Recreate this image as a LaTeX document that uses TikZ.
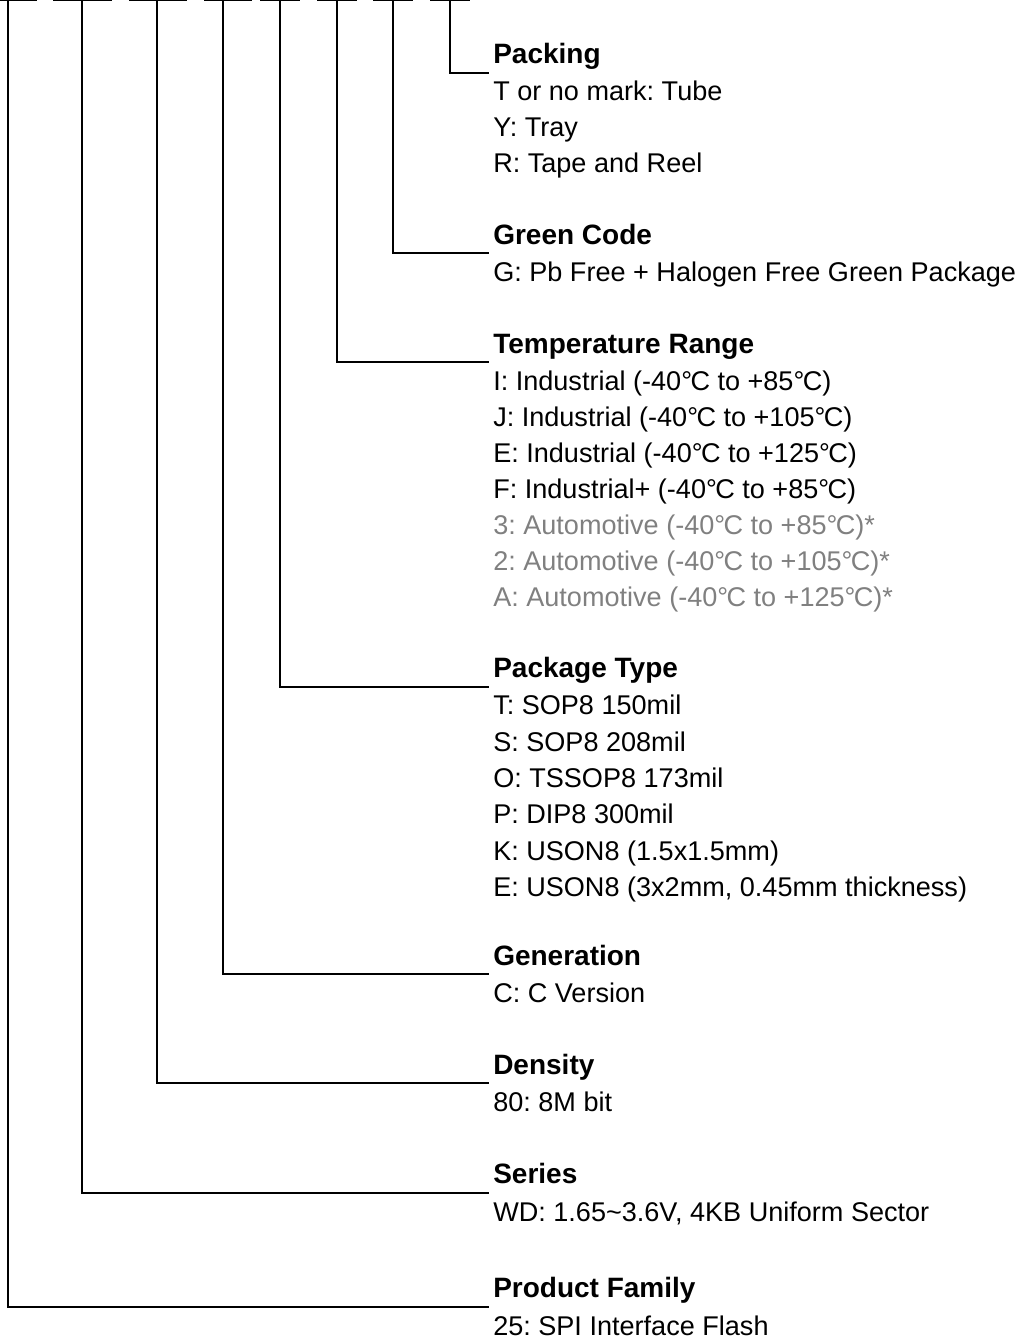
\documentclass[tikz,border=0pt]{standalone}
\usepackage{fontspec}
\setmainfont{Liberation Sans}
\definecolor{autogray}{RGB}{128,128,128}
\newcommand\DegC{°\kern-0.06em C}
\frenchspacing
\begin{document}
\begin{tikzpicture}[x=0.75pt,y=-0.75pt,
  conn/.style={line width=1.5pt,line join=miter},
  topdash/.style={line width=1.5pt},
  title/.style={anchor=base west,inner sep=0pt,font=\fontsize{21pt}{25pt}\bfseries\selectfont},
  entry/.style={anchor=base west,inner sep=0pt,font=\fontsize{20.3pt}{24pt}\selectfont},
  autoentry/.style={entry,text=autogray}]
\useasboundingbox (0,0) rectangle (1022,1340);
% top dashes
\foreach \a/\b in {0/37,53/112,129/187,204/252,260/300,317/357,373/413,430/470}
  \draw[topdash] (\a,0) -- (\b,0);
% top coordinates of the verticals and end column of the horizontals
\coordinate (v1) at (7.5,0);
\coordinate (v2) at (82.3,0);
\coordinate (v3) at (157.3,0);
\coordinate (v4) at (223.3,0);
\coordinate (v5) at (280,0);
\coordinate (v6) at (336.7,0);
\coordinate (v7) at (393.3,0);
\coordinate (v8) at (450,0);
\coordinate (hend) at (489,0);
% Packing
\node[title] (pk) at (493,63.2) {Packing};
\node[entry] (pk1) at (493,100.7) {T or no mark: Tube};
\node[entry] (pk2) at (493,136.7) {Y: Tray};
\node[entry] (pk3) at (493,172.7) {R: Tape and Reel};
% Green code
\node[title] (gc) at (493,244) {Green Code};
\node[entry] (gc1) at (493,281.5) {G: Pb Free + Halogen Free Green Package};
% Temperature
\node[title] (tr) at (493,353) {Temperature Range};
\node[entry] (tr1) at (493,390.5) {I: Industrial (-40\DegC{} to +85\DegC)};
\node[entry] (tr2) at (493,426.5) {J: Industrial (-40\DegC{} to +105\DegC)};
\node[entry] (tr3) at (493,462.5) {E: Industrial (-40\DegC{} to +125\DegC)};
\node[entry] (tr4) at (493,498.5) {F: Industrial+ (-40\DegC{} to +85\DegC)};
\node[autoentry] (tr5) at (493,534.5) {3: Automotive (-40\DegC{} to +85\DegC)*};
\node[autoentry] (tr6) at (493,570.5) {2: Automotive (-40\DegC{} to +105\DegC)*};
\node[autoentry] (tr7) at (493,606.5) {A: Automotive (-40\DegC{} to +125\DegC)*};
% Package type
\node[title] (pt) at (493,677.2) {Package Type};
\node[entry] (pt1) at (493,714.7) {T: SOP8 150mil};
\node[entry] (pt2) at (493,751) {S: SOP8 208mil};
\node[entry] (pt3) at (493,787.4) {O: TSSOP8 173mil};
\node[entry] (pt4) at (493,823.8) {P: DIP8 300mil};
\node[entry] (pt5) at (493,860.2) {K: USON8 (1.5x1.5mm)};
\node[entry] (pt6) at (493,896.6) {E: USON8 (3x2mm, 0.45mm thickness)};
% Generation
\node[title] (ge) at (493,965) {Generation};
\node[entry] (ge1) at (493,1002.5) {C: C Version};
% Density
\node[title] (de) at (493,1074) {Density};
\node[entry] (de1) at (493,1111.5) {80: 8M bit};
% Series
\node[title] (se) at (493,1183.5) {Series};
\node[entry] (se1) at (493,1221) {WD: 1.65\textasciitilde3.6V, 4KB Uniform Sector};
% Product family
\node[title] (pf) at (493,1297.5) {Product Family};
\node[entry] (pf1) at (493,1335) {25: SPI Interface Flash};
% connectors
\draw[conn] (v8) |- ([yshift=-7.1pt]pk.base west -| hend);
\draw[conn] (v7) |- ([yshift=-7.1pt]gc.base west -| hend);
\draw[conn] (v6) |- ([yshift=-7.1pt]tr.base west -| hend);
\draw[conn] (v5) |- ([yshift=-7.1pt]pt.base west -| hend);
\draw[conn] (v4) |- ([yshift=-7.1pt]ge.base west -| hend);
\draw[conn] (v3) |- ([yshift=-7.1pt]de.base west -| hend);
\draw[conn] (v2) |- ([yshift=-7.1pt]se.base west -| hend);
\draw[conn] (v1) |- ([yshift=-7.1pt]pf.base west -| hend);
\end{tikzpicture}
\end{document}
